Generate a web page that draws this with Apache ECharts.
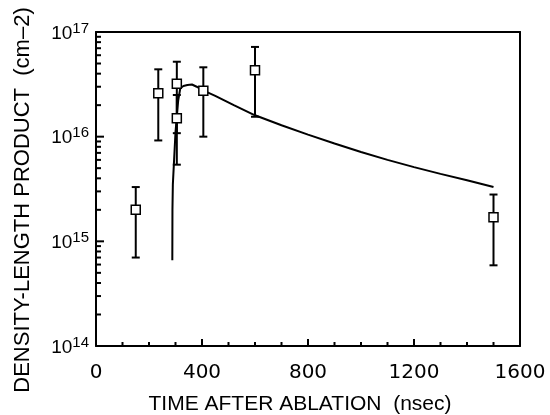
<!DOCTYPE html>
<html>
<head>
<meta charset="utf-8">
<script src="https://cdn.jsdelivr.net/npm/echarts@6/dist/echarts.min.js"></script>
<style>html,body{margin:0;padding:0;background:#fff}#c{width:550px;height:415px}</style>
</head>
<body>
<div id="c"></div>
<script>
// Measured data points (time in nsec, density-length product in cm^-2)
const times   = [150, 235, 305, 305, 405, 600, 1500];
const values  = [2.0e15, 2.6e16, 3.2e16, 1.5e16, 2.75e16, 4.3e16, 1.7e15];
const errLow  = [7.0e14, 9.2e15, 1.08e16, 5.4e15, 1.0e16, 1.55e16, 5.9e14];
const errHigh = [3.3e15, 4.4e16, 5.2e16, 2.5e16, 4.6e16, 7.2e16, 2.8e15];

// Model curve
const curveT = [288, 288.5, 290, 300, 310, 318, 330, 345, 362, 380, 400, 450, 520, 600, 700, 800, 900, 1000, 1100, 1200, 1300, 1400, 1500];
const curveN = [6.6e14, 2.0e15, 3.5e15, 1.1e16, 2.2e16, 2.9e16, 3.05e16, 3.12e16, 3.15e16, 3.0e16, 2.8e16, 2.45e16, 2.0e16, 1.6e16, 1.285e16, 1.045e16, 8.6e15, 7.14e15, 6.0e15, 5.12e15, 4.41e15, 3.84e15, 3.3e15];

// Axis ticks
const xTickLabels = [0, 400, 800, 1200, 1600];
const xMinorTicks = [100, 200, 300, 500, 600, 700, 900, 1000, 1100, 1300, 1400, 1500];
const yDecades = [14, 15, 16, 17];
const yMinorMantissa = [2, 3, 4, 5, 6, 7, 8, 9];

const yMinorTicks = [];
yDecades.slice(0, -1).forEach(d => yMinorMantissa.forEach(m => yMinorTicks.push(m * Math.pow(10, d))));

const chart = echarts.init(document.getElementById('c'));
const black = '#000';
const tickStyle = { stroke: black, lineWidth: 2 };
const option = {
  animation: false,
  backgroundColor: '#fff',
  grid: { left: 96, right: 30, top: 32, bottom: 69, containLabel: false, outerBoundsMode: 'none' },
  xAxis: [{
    type: 'value', min: 0, max: 1600, interval: 400, position: 'bottom',
    axisLine: { show: true, onZero: false, lineStyle: { color: black, width: 2 } },
    axisTick: { show: false },
    splitLine: { show: false },
    axisLabel: {
      margin: 17, color: black, fontFamily: 'DejaVu Sans', fontSize: 20,
      formatter: v => xTickLabels.indexOf(v) >= 0 ? String(v) : ''
    },
    name: 'TIME AFTER ABLATION  (nsec)', nameLocation: 'middle', nameGap: 48,
    nameTextStyle: { color: black, fontFamily: 'Liberation Sans', fontSize: 21, padding: [0, 16, 0, 0] }
  }, {
    type: 'value', min: 0, max: 1600, position: 'top',
    axisLine: { show: true, onZero: false, lineStyle: { color: black, width: 2 } },
    axisTick: { show: false }, axisLabel: { show: false }, splitLine: { show: false }
  }],
  yAxis: [{
    type: 'log', logBase: 10, min: 1e14, max: 1e17, position: 'left',
    axisLine: { show: true, onZero: false, lineStyle: { color: black, width: 2 } },
    axisTick: { show: false },
    splitLine: { show: false },
    axisLabel: {
      margin: 7, color: black,
      formatter: v => '{b|10}{s|' + Math.round(Math.log10(v)) + '}',
      rich: {
        b: { fontFamily: 'Liberation Sans', fontSize: 19, color: black, verticalAlign: 'bottom', lineHeight: 22 },
        s: { fontFamily: 'Liberation Sans', fontSize: 15, color: black, verticalAlign: 'top', lineHeight: 22, padding: [0, 0, 6, 0] }
      }
    },
    name: 'DENSITY-LENGTH PRODUCT  (cm–2)', nameLocation: 'middle', nameGap: 62, nameRotate: 90,
    nameTextStyle: { color: black, fontFamily: 'Liberation Sans', fontSize: 22, padding: [0, 22, 0, 0] }
  }, {
    type: 'log', logBase: 10, min: 1e14, max: 1e17, position: 'right',
    axisLine: { show: true, onZero: false, lineStyle: { color: black, width: 2 } },
    axisTick: { show: false }, axisLabel: { show: false }, splitLine: { show: false }
  }],
  series: [
    {
      type: 'custom', name: 'yTicks', silent: true, clip: false,
      data: yDecades.map(d => [0, Math.pow(10, d), 8]).concat(yMinorTicks.map(v => [0, v, 5])),
      renderItem: (params, api) => {
        const p = api.coord([api.value(0), api.value(1)]);
        return { type: 'line', shape: { x1: p[0], y1: p[1], x2: p[0] + api.value(2), y2: p[1] }, style: tickStyle };
      }
    },
    {
      type: 'custom', name: 'xTicks', silent: true, clip: false,
      data: xTickLabels.map(v => [v, 1e14, 7]).concat(xMinorTicks.map(v => [v, 1e14, 4])),
      renderItem: (params, api) => {
        const p = api.coord([api.value(0), api.value(1)]);
        return { type: 'line', shape: { x1: p[0], y1: p[1], x2: p[0], y2: p[1] - api.value(2) }, style: tickStyle };
      }
    },
    {
      type: 'line', name: 'model', data: curveT.map((t, i) => [t, curveN[i]]),
      showSymbol: false, symbol: 'none', lineStyle: { color: black, width: 2 }, z: 3
    },
    {
      type: 'custom', name: 'errors',
      data: times.map((t, i) => [t, errLow[i], errHigh[i]]),
      renderItem: (params, api) => {
        const lo = api.coord([api.value(0), api.value(1)]);
        const hi = api.coord([api.value(0), api.value(2)]);
        const w = 4;
        return {
          type: 'group', children: [
            { type: 'line', shape: { x1: lo[0], y1: lo[1], x2: hi[0], y2: hi[1] }, style: { stroke: black, lineWidth: 2 } },
            { type: 'line', shape: { x1: lo[0] - w, y1: lo[1], x2: lo[0] + w, y2: lo[1] }, style: { stroke: black, lineWidth: 2 } },
            { type: 'line', shape: { x1: hi[0] - w, y1: hi[1], x2: hi[0] + w, y2: hi[1] }, style: { stroke: black, lineWidth: 2 } }
          ]
        };
      },
      z: 4
    },
    {
      type: 'scatter', name: 'data', data: times.map((t, i) => [t, values[i]]),
      symbol: 'rect', symbolSize: 9,
      itemStyle: { color: '#fff', borderColor: black, borderWidth: 1.5, opacity: 1 }, z: 5
    }
  ]
};
chart.setOption(option);
</script>
</body>
</html>
